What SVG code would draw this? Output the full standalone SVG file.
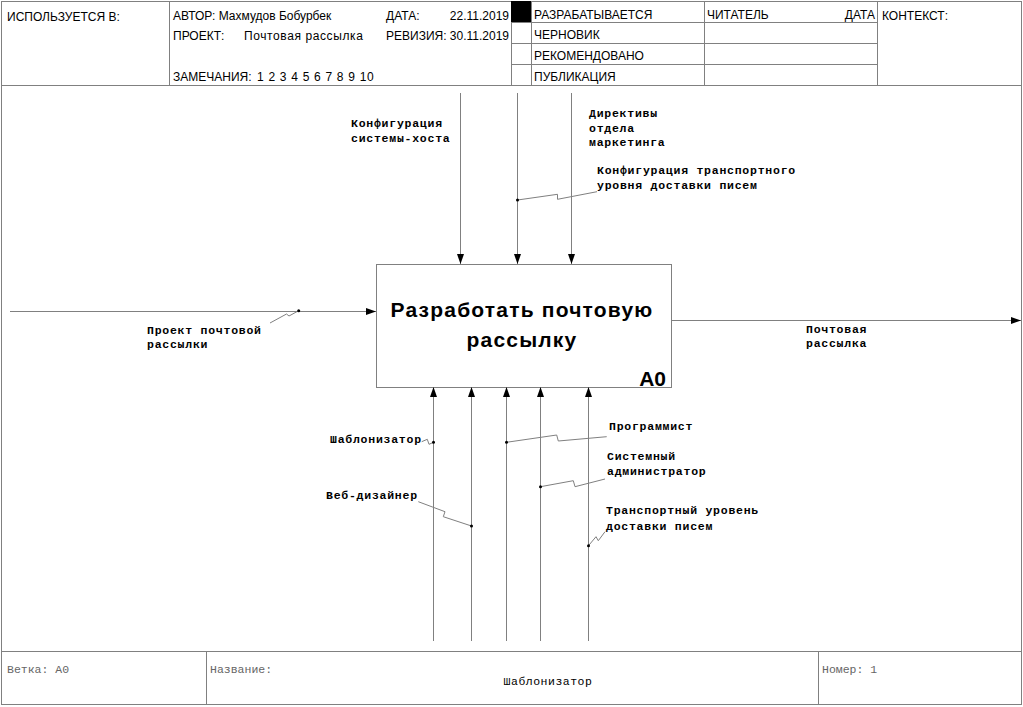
<svg xmlns="http://www.w3.org/2000/svg" width="1023" height="707" viewBox="0 0 1023 707">
<defs>
<marker id="ah" viewBox="0 0 10 7" refX="10" refY="3.5" markerWidth="10" markerHeight="7" orient="auto" markerUnits="userSpaceOnUse">
<path d="M0,0 L10,3.5 L0,7 z" fill="#000"/>
</marker>
<style>
.frame{fill:none;stroke:#808080;stroke-width:1}
.hd{font-family:"Liberation Sans",Arial,sans-serif;font-size:12px;fill:#000}
.lbl{font-family:"Liberation Mono","Courier New",monospace;font-size:11.5px;font-weight:bold;letter-spacing:0.75px;fill:#000}
.ft{font-family:"Liberation Mono","Courier New",monospace;font-size:11.5px;fill:#666}
.title{font-family:"Liberation Sans",Arial,sans-serif;font-size:21px;font-weight:bold;letter-spacing:1.2px;fill:#000}
.arr{fill:none;stroke:#808080;stroke-width:1}
.sq{fill:none;stroke:#808080;stroke-width:1}
.dot{fill:#000}
</style>
</defs>
<rect x="0" y="0" width="1023" height="707" fill="#fff"/>

<g id="header">
<rect class="frame" x="1.5" y="1.5" width="1020" height="703"/>
<line class="frame" x1="1" y1="85.5" x2="1022" y2="85.5"/>
<line class="frame" x1="169.5" y1="1" x2="169.5" y2="85"/>
<line class="frame" x1="511.5" y1="1" x2="511.5" y2="85"/>
<line class="frame" x1="531.5" y1="1" x2="531.5" y2="85"/>
<line class="frame" x1="704.5" y1="1" x2="704.5" y2="85"/>
<line class="frame" x1="877.5" y1="1" x2="877.5" y2="85"/>
<line class="frame" x1="511" y1="22.5" x2="877" y2="22.5"/>
<line class="frame" x1="511" y1="43.5" x2="877" y2="43.5"/>
<line class="frame" x1="511" y1="64.5" x2="877" y2="64.5"/>
<rect x="511" y="1" width="20" height="21" fill="#000"/>
<text class="hd" x="7" y="21">ИСПОЛЬЗУЕТСЯ В:</text>
<text class="hd" x="173" y="20">АВТОР: Махмудов Бобурбек</text>
<text class="hd" x="386" y="20">ДАТА:</text>
<text class="hd" x="509" y="20" text-anchor="end">22.11.2019</text>
<text class="hd" x="173" y="40">ПРОЕКТ:</text>
<text class="hd" x="244" y="40" letter-spacing="0.6">Почтовая рассылка</text>
<text class="hd" x="386" y="40">РЕВИЗИЯ: 30.11.2019</text>
<text class="hd" x="173" y="81">ЗАМЕЧАНИЯ:</text>
<text class="hd" x="257" y="81" letter-spacing="0.7">1 2 3 4 5 6 7 8 9 10</text>
<text class="hd" x="534" y="19">РАЗРАБАТЫВАЕТСЯ</text>
<text class="hd" x="534" y="39">ЧЕРНОВИК</text>
<text class="hd" x="534" y="60">РЕКОМЕНДОВАНО</text>
<text class="hd" x="534" y="81">ПУБЛИКАЦИЯ</text>
<text class="hd" x="707" y="19">ЧИТАТЕЛЬ</text>
<text class="hd" x="875" y="19" text-anchor="end">ДАТА</text>
<text class="hd" x="882" y="20">КОНТЕКСТ:</text>
</g>

<g id="footer">
<line class="frame" x1="1" y1="651.5" x2="1022" y2="651.5"/>
<line class="frame" x1="206.5" y1="651" x2="206.5" y2="705"/>
<line class="frame" x1="818.5" y1="651" x2="818.5" y2="705"/>
<text class="ft" x="7" y="673">Ветка: A0</text>
<text class="ft" x="210" y="673">Название:</text>
<text class="ft" x="548" y="685" text-anchor="middle" letter-spacing="0.5" style="fill:#000">Шаблонизатор</text>
<text class="ft" x="822" y="673">Номер: 1</text>
</g>

<g id="A0">
<rect x="376.5" y="264.5" width="295" height="123" fill="#fff" stroke="#808080" stroke-width="1"/>
<text class="title" x="522" y="317" text-anchor="middle">Разработать почтовую</text>
<text class="title" x="522" y="347" text-anchor="middle">рассылку</text>
<text x="666" y="386" text-anchor="end" font-family="'Liberation Sans',Arial,sans-serif" font-size="21" font-weight="bold">A0</text>
</g>

<g id="connectors">
<line class="arr" x1="460.5" y1="93" x2="460.5" y2="264" marker-end="url(#ah)"/>
<line class="arr" x1="517.5" y1="93" x2="517.5" y2="264" marker-end="url(#ah)"/>
<line class="arr" x1="571.5" y1="93" x2="571.5" y2="264" marker-end="url(#ah)"/>
<line class="arr" x1="10" y1="311.5" x2="376" y2="311.5" marker-end="url(#ah)"/>
<line class="arr" x1="671" y1="320.5" x2="1021" y2="320.5" marker-end="url(#ah)"/>
<line class="arr" x1="433.5" y1="641" x2="433.5" y2="387" marker-end="url(#ah)"/>
<line class="arr" x1="471.5" y1="641" x2="471.5" y2="387" marker-end="url(#ah)"/>
<line class="arr" x1="506.5" y1="641" x2="506.5" y2="387" marker-end="url(#ah)"/>
<line class="arr" x1="540.5" y1="641" x2="540.5" y2="387" marker-end="url(#ah)"/>
<line class="arr" x1="588.5" y1="641" x2="588.5" y2="387" marker-end="url(#ah)"/>

<polyline class="sq" points="517.5,200 557.5,194.3 557.5,199.3 597,191.7"/>
<circle class="dot" cx="517.5" cy="200" r="1.5"/>
<polyline class="sq" points="298.7,310.7 289,316 286.5,314 270,323"/>
<circle class="dot" cx="298.7" cy="310.7" r="1.5"/>
<polyline class="sq" points="421.7,441.7 427.3,439.3 429,444.3 433.5,442.3"/>
<circle class="dot" cx="433.5" cy="442.3" r="1.5"/>
<polyline class="sq" points="418.3,501.7 445,511.7 443.3,516.7 471.5,526"/>
<circle class="dot" cx="471.5" cy="526" r="1.5"/>
<polyline class="sq" points="506.5,442.3 556.7,435 558.3,441 606.7,436.7"/>
<circle class="dot" cx="506.5" cy="442.3" r="1.5"/>
<polyline class="sq" points="540.5,486.7 573.3,480.7 575,486.7 605,479"/>
<circle class="dot" cx="540.5" cy="486.7" r="1.5"/>
<polyline class="sq" points="588.5,545.7 596,536.7 598.3,540.7 605,531.7"/>
<circle class="dot" cx="588.5" cy="545.7" r="1.5"/>
</g>

<g id="labels">
<text class="lbl" x="351" y="127">Конфигурация</text>
<text class="lbl" x="351" y="142">системы-хоста</text>
<text class="lbl" x="589" y="117">Директивы</text>
<text class="lbl" x="589" y="132">отдела</text>
<text class="lbl" x="589" y="146">маркетинга</text>
<text class="lbl" x="597" y="174">Конфигурация транспортного</text>
<text class="lbl" x="597" y="189">уровня доставки писем</text>
<text class="lbl" x="147" y="334">Проект почтовой</text>
<text class="lbl" x="147" y="348">рассылки</text>
<text class="lbl" x="806" y="333">Почтовая</text>
<text class="lbl" x="806" y="347">рассылка</text>
<text class="lbl" x="330" y="443">Шаблонизатор</text>
<text class="lbl" x="326" y="499">Веб-дизайнер</text>
<text class="lbl" x="609" y="430">Программист</text>
<text class="lbl" x="607" y="460">Системный</text>
<text class="lbl" x="607" y="475">администратор</text>
<text class="lbl" x="606" y="514">Транспортный уровень</text>
<text class="lbl" x="606" y="530">доставки писем</text>
</g>
</svg>
